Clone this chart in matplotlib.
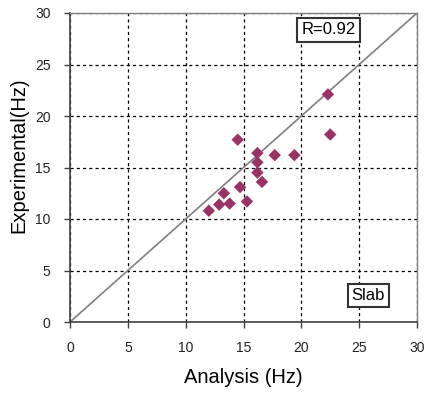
import matplotlib
matplotlib.use('Agg')
import matplotlib.pyplot as plt

# analysis vs experimental frequencies (Hz)
analysis = [14.5, 22.3, 22.5, 16.2, 17.7, 19.4, 16.2, 16.2, 16.6, 14.7, 13.3, 12.9, 13.8, 15.3, 12.0]
experimental = [17.7, 22.1, 18.2, 16.4, 16.2, 16.2, 15.5, 14.5, 13.6, 13.1, 12.5, 11.4, 11.5, 11.7, 10.8]
ticks = [0, 5, 10, 15, 20, 25, 30]
r_text = 'R=0.92'
case_text = 'Slab'

plt.rcParams['font.family'] = ['Liberation Sans', 'DejaVu Sans']

fig = plt.figure(figsize=(4.26, 3.94), dpi=100)
ax = fig.add_axes([70 / 426, 1 - 322 / 394, 347 / 426, 309 / 394])

# 1:1 line
ax.plot([0, 30], [0, 30], color='#808080', lw=1.2, zorder=2)
ax.scatter(analysis, experimental, marker='D', s=40, color='#993366',
           edgecolors='none', zorder=3)

ax.set_xlim(0, 30)
ax.set_ylim(0, 30)
ax.set_xticks(ticks)
ax.set_yticks(ticks)
ax.grid(True, color='black', linestyle=(0, (2.5, 2.5)), lw=0.9)
ax.set_axisbelow(True)

for s in ['left', 'bottom']:
    ax.spines[s].set_color('#404040')
    ax.spines[s].set_linewidth(1.2)
for s in ['top', 'right']:
    ax.spines[s].set_color('#808080')
    ax.spines[s].set_linewidth(1.0)

ax.tick_params(direction='out', length=4, width=1, color='#404040',
               labelsize=10, labelcolor='#222222')
ax.tick_params(axis='x', pad=10)
ax.tick_params(axis='y', pad=10)

ax.set_xlabel('Analysis (Hz)', fontsize=14.5)
ax.set_ylabel('Experimental(Hz)', fontsize=14.5)
ax.xaxis.set_label_coords(0.5, -0.15)
ax.yaxis.set_label_coords(-0.12, 0.54)

box = dict(boxstyle='square,pad=0.25', facecolor='white', edgecolor='#333333', lw=1.5)
ax.text(22.35, 28.35, r_text, fontsize=12, ha='center', va='center', bbox=box, zorder=4)
ax.text(25.8, 2.55, case_text, fontsize=12, ha='center', va='center', bbox=box, zorder=4)

fig.savefig('out.png', dpi=100)
